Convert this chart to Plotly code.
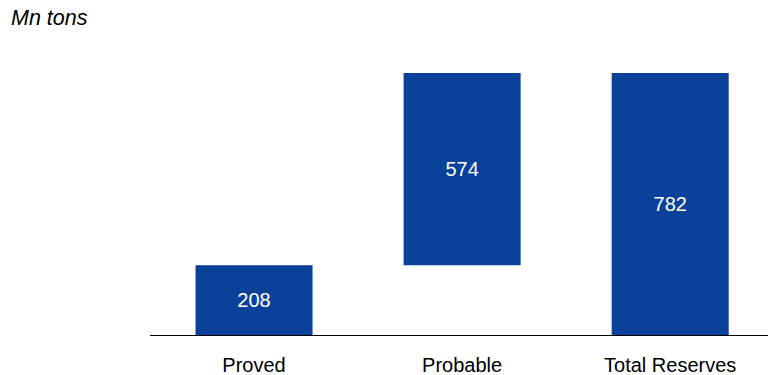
import plotly.graph_objects as go

categories = ["Proved", "Probable", "Total Reserves"]
values = [208, 574, 782]
measures = ["relative", "relative", "total"]

bar_color = "#0A4199"
font_family = "Liberation Sans, Arial, sans-serif"

fig = go.Figure(
    go.Waterfall(
        x=categories,
        y=values,
        measure=measures,
        text=[str(v) for v in values],
        textposition="inside",
        insidetextanchor="middle",
        textfont=dict(color="white", size=20, family=font_family),
        increasing=dict(marker=dict(color=bar_color)),
        totals=dict(marker=dict(color=bar_color)),
        decreasing=dict(marker=dict(color=bar_color)),
        connector=dict(visible=False),
        width=0.5625,
        hoverinfo="skip",
    )
)

fig.update_layout(
    width=768,
    height=375,
    margin=dict(l=150, r=0, t=73, b=40),
    paper_bgcolor="white",
    plot_bgcolor="white",
    showlegend=False,
    font=dict(family=font_family, size=20, color="black"),
    xaxis=dict(
        range=[-0.5, 2.47],
        showline=True,
        linecolor="black",
        linewidth=1,
        showgrid=False,
        ticks="outside",
        ticklen=12,
        tickcolor="rgba(0,0,0,0)",
        tickfont=dict(size=20, color="black"),
        fixedrange=True,
    ),
    yaxis=dict(
        range=[0, 782],
        visible=False,
        fixedrange=True,
    ),
    annotations=[
        dict(
            text="<i>Mn tons</i>",
            xref="paper",
            yref="paper",
            x=-150 / 618,
            y=1,
            yshift=55,
            xanchor="left",
            yanchor="middle",
            xshift=9,
            showarrow=False,
            font=dict(size=21.5, color="black", family=font_family),
        )
    ],
)

fig.write_html("out.html")
